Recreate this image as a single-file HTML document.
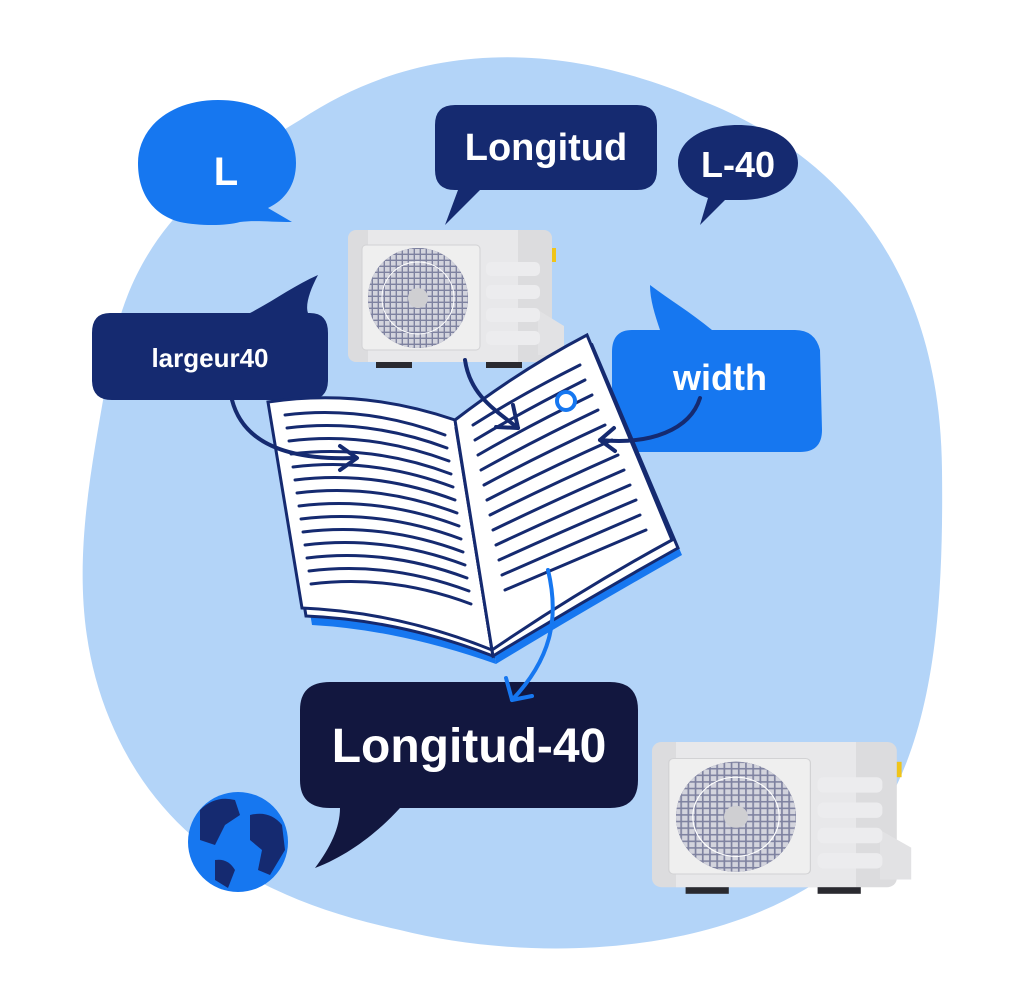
<!DOCTYPE html>
<html><head><meta charset="utf-8"><style>
html,body{margin:0;padding:0;background:#fff;}
svg{display:block;}
text{font-family:"Liberation Sans",sans-serif;font-weight:bold;fill:#fff;}
</style></head><body>
<svg width="1024" height="996" viewBox="0 0 1024 996" xmlns="http://www.w3.org/2000/svg">
<defs>
<pattern id="grid" width="6" height="6" patternUnits="userSpaceOnUse">
<rect width="6" height="6" fill="#8a8da8"/><rect x="1" y="1" width="4.6" height="4.6" fill="#eeeef0"/>
</pattern>
<g id="ac">
<rect x="0" y="0" width="204" height="132" rx="8" fill="#dcdcde"/>
<rect x="20" y="0" width="150" height="132" fill="#e8e8ea"/>
<rect x="204" y="18" width="4" height="14" fill="#f0c419"/>
<path d="M190 80 L216 96 L216 125 L190 125 Z" fill="#e2e2e4"/>
<rect x="14" y="15" width="118" height="105" rx="4" fill="#efefef" stroke="#d2d2d4"/>
<circle cx="70" cy="68" r="50" fill="#3c4170"/>
<circle cx="70" cy="68" r="50" fill="url(#grid)" opacity="0.85"/>
<circle cx="70" cy="68" r="36" fill="none" stroke="#fff" stroke-width="1"/>
<circle cx="70" cy="68" r="10" fill="#cfcfd2"/>
<rect x="138" y="32" width="54" height="14" rx="5" fill="#ececee"/>
<rect x="138" y="55" width="54" height="14" rx="5" fill="#ececee"/>
<rect x="138" y="78" width="54" height="14" rx="5" fill="#ececee"/>
<rect x="138" y="101" width="54" height="14" rx="5" fill="#ececee"/>
<rect x="28" y="132" width="36" height="6" fill="#2a2a30"/>
<rect x="138" y="132" width="36" height="6" fill="#2a2a30"/>
</g>
</defs>
<path d="M300 120 C420 40 560 40 700 100 C830 150 940 260 942 470 C944 640 930 800 820 880 C700 960 520 960 400 930 C260 900 160 840 110 720 C60 600 90 480 110 360 C130 240 200 180 300 120 Z" fill="#b3d4f8"/>

<path d="M218 100 C270 100 296 130 296 163 C296 185 285 200 268 208 L292 222 C270 222 255 220 240 222 C225 226 200 226 180 222 C150 214 138 190 138 163 C138 128 170 100 218 100 Z" fill="#1677f0"/>
<text x="226" y="185" font-size="40" text-anchor="middle">L</text>

<path d="M455 105 H637 Q657 105 657 125 V170 Q657 190 637 190 H480 L445 225 L458 190 H455 Q435 190 435 170 V125 Q435 105 455 105 Z" fill="#152a70"/>
<text x="546" y="160" font-size="38" text-anchor="middle">Longitud</text>

<path d="M738 125 C775 125 798 142 798 163 C798 185 775 200 740 200 L725 200 L700 225 L708 198 C690 192 678 180 678 163 C678 142 700 125 738 125 Z" fill="#152a70"/>
<text x="738" y="177" font-size="36" text-anchor="middle">L-40</text>

<use href="#ac" x="348" y="230"/>

<path d="M110 313 H250 C275 300 295 285 318 275 C310 290 305 305 308 313 H310 Q328 313 328 333 V380 Q328 400 308 400 H112 Q92 400 92 380 V333 Q92 313 110 313 Z" fill="#152a70"/>
<text x="210" y="367" font-size="26" text-anchor="middle">largeur40</text>

<path d="M632 330 H660 C655 315 650 300 650 285 C670 300 690 312 712 330 H795 Q815 330 820 350 L822 430 Q822 452 800 452 H640 Q615 452 612 430 V352 Q612 330 632 330 Z" fill="#1677f0"/>
<text x="720" y="390" font-size="36" text-anchor="middle">width</text>

<path d="M278 420 Q370 410 460 440 L496 664 Q400 630 312 625 Z" fill="#1677f0"/>
<path d="M460 440 Q540 390 595 355 L682 555 Q585 610 496 664 Z" fill="#1677f0"/>
<path d="M272 408 Q365 395 456 428 L493 656 Q400 620 306 616 Z" fill="#fff" stroke="#152a70" stroke-width="3"/>
<path d="M268 402 Q362 388 455 420 L492 650 Q398 612 302 608 Z" fill="#fff" stroke="#152a70" stroke-width="3"/>
<path d="M456 428 Q530 380 592 345 L678 548 Q585 600 493 656 Z" fill="#fff" stroke="#152a70" stroke-width="3"/>
<path d="M455 420 Q520 370 587 335 L672 540 Q580 590 492 650 Z" fill="#fff" stroke="#152a70" stroke-width="3"/>
<g stroke="#152a70" stroke-width="3" fill="none" stroke-linecap="round">
<path d="M285 415 Q365 405 445 435"/><path d="M287 428 Q367 418 447 448"/><path d="M289 441 Q369 431 449 461"/>
<path d="M291 454 Q371 444 451 474"/><path d="M293 467 Q373 457 453 487"/><path d="M295 480 Q375 470 455 500"/>
<path d="M297 493 Q377 483 457 513"/><path d="M299 506 Q379 496 459 526"/><path d="M301 519 Q381 509 461 539"/>
<path d="M303 532 Q383 522 463 552"/><path d="M305 545 Q385 535 465 565"/><path d="M307 558 Q387 548 467 578"/>
<path d="M309 571 Q389 561 469 591"/><path d="M311 584 Q391 574 471 604"/>
<path d="M473 425 Q520 395 580 365"/><path d="M475 440 Q525 410 585 380"/><path d="M478 455 Q530 425 592 395"/>
<path d="M481 470 Q535 440 598 410"/><path d="M484 485 Q540 455 605 425"/><path d="M487 500 Q545 470 612 440"/>
<path d="M490 515 Q550 485 618 455"/><path d="M493 530 Q555 500 624 470"/><path d="M496 545 Q560 515 630 485"/>
<path d="M499 560 Q565 530 636 500"/><path d="M502 575 Q570 545 640 515"/><path d="M505 590 Q575 560 646 530"/>
</g>
<circle cx="566" cy="401" r="9" fill="#fff" stroke="#1677f0" stroke-width="4"/>

<g fill="none" stroke="#152a70" stroke-width="4" stroke-linecap="round" stroke-linejoin="round">
<path d="M232 400 C245 450 300 460 355 458"/><path d="M340 446 L357 458 L340 470"/>
<path d="M465 360 C470 395 495 410 518 428"/><path d="M513 405 L518 428 L496 427"/>
<path d="M700 398 C690 430 650 445 600 440"/><path d="M614 428 L600 440 L615 451"/>
</g>

<path d="M330 682 H610 Q638 682 638 710 V780 Q638 808 610 808 H400 C380 830 350 855 315 868 C330 848 340 828 340 808 H330 Q300 808 300 780 V710 Q300 682 330 682 Z" fill="#12173f"/>
<text x="469" y="762" font-size="48" text-anchor="middle">Longitud-40</text>

<g fill="none" stroke="#1677f0" stroke-width="4" stroke-linecap="round" stroke-linejoin="round">
<path d="M548 570 C560 620 550 660 512 700"/><path d="M506 678 L512 700 L532 696"/>
</g>

<circle cx="238" cy="842" r="50" fill="#1677f0"/>
<g fill="#152a70">
<path d="M200 810 Q215 795 235 800 L240 815 L225 825 L215 845 L200 840 Z"/>
<path d="M250 815 Q270 810 282 825 L285 850 L270 875 L258 870 L262 850 L250 840 Z"/>
<path d="M215 860 Q228 858 235 870 L228 888 L215 880 Z"/>
</g>

<use href="#ac" x="652" y="742" transform="translate(652 742) scale(1.2 1.1) translate(-652 -742)"/>
</svg>
</body></html>
